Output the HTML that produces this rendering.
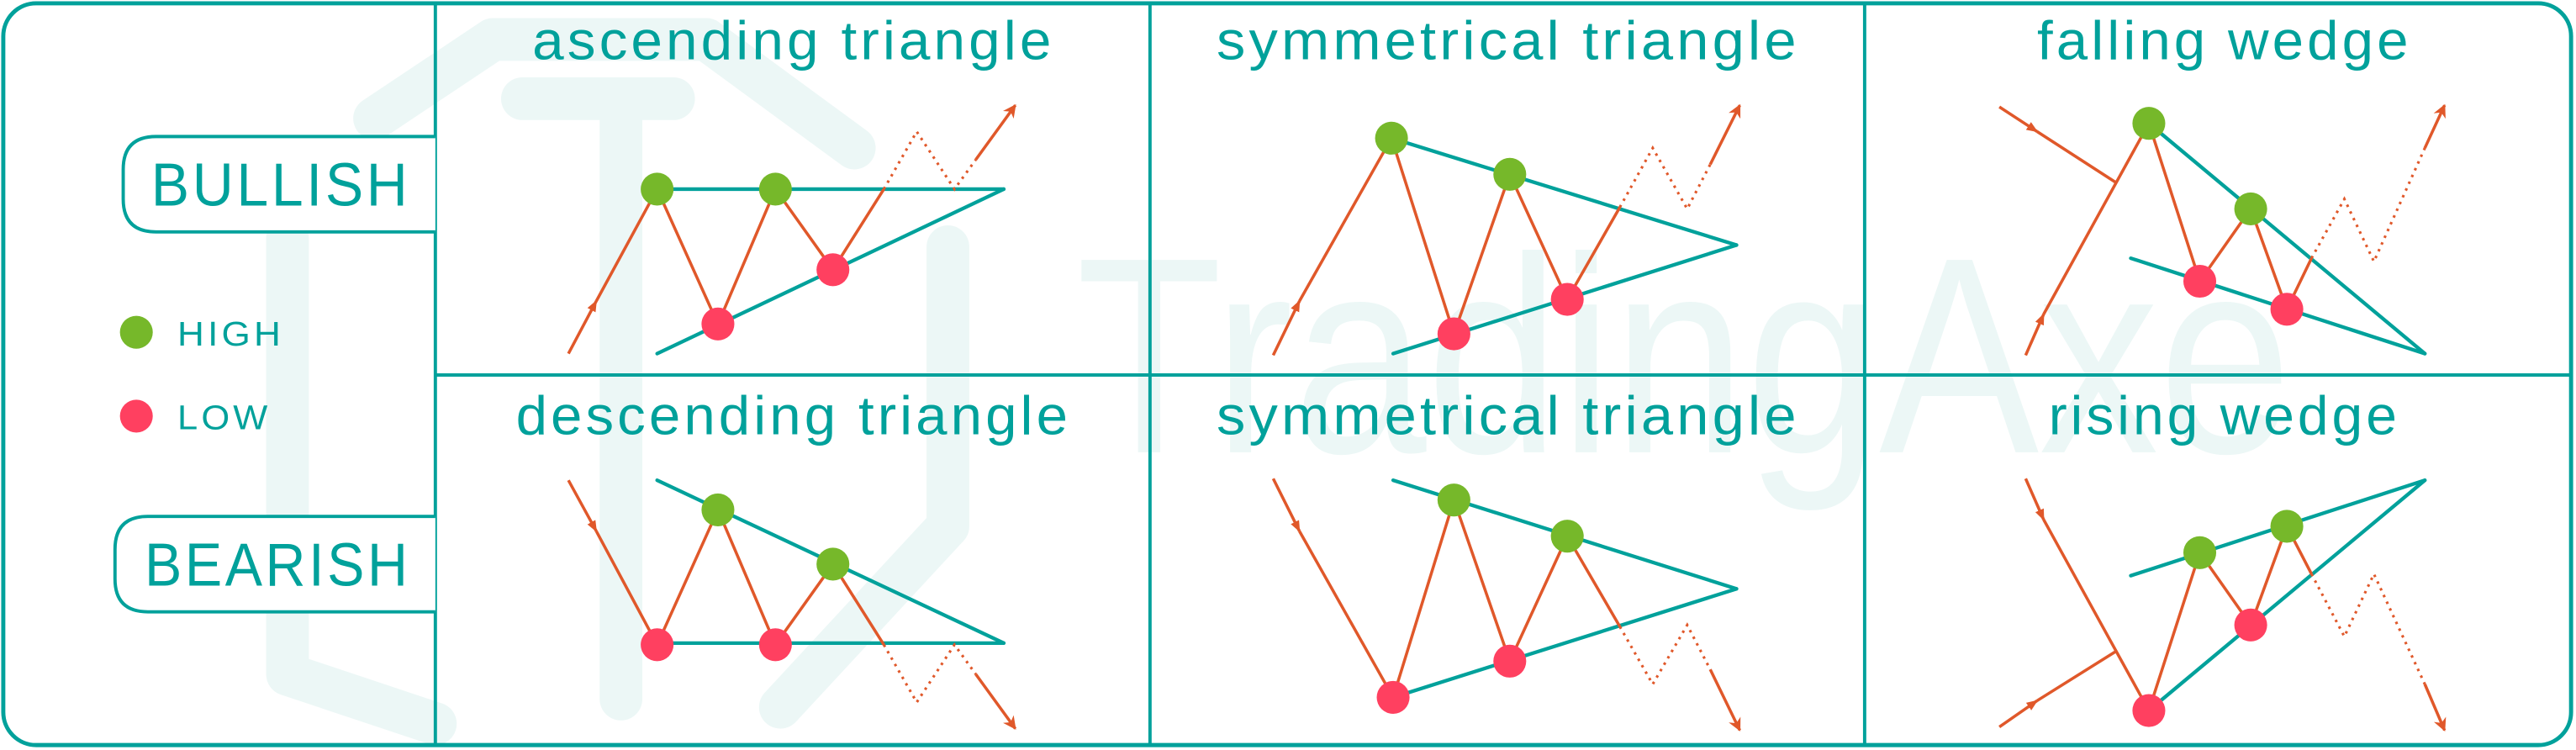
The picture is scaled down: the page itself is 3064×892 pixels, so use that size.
<!DOCTYPE html>
<html><head><meta charset="utf-8">
<style>
html,body{margin:0;padding:0;background:#fff;}
svg{display:block;}
text{font-family:"Liberation Sans",sans-serif;}
</style></head>
<body>
<svg id="chart" width="3064" height="892" viewBox="0 0 1568 456" preserveAspectRatio="none" xmlns="http://www.w3.org/2000/svg">
<defs>
<marker id="arr" viewBox="0 0 10 10" refX="9" refY="5" markerWidth="7" markerHeight="7" orient="auto-start-reverse" markerUnits="userSpaceOnUse"><path d="M0,1 L10,5 L0,9 Z" fill="#e0582a"/></marker>
<marker id="arrBig" viewBox="0 0 10 10" refX="9" refY="5" markerWidth="10" markerHeight="8" orient="auto" markerUnits="userSpaceOnUse"><path d="M0,0 L10,5 L0,10 L3,5 Z" fill="#e0582a"/></marker>
</defs>
<g id="watermark" fill="none" stroke="#ecf7f6" stroke-width="26" stroke-linecap="round" stroke-linejoin="round">
<path d="M228,72 L300,24 L430,24 L520,90"/>
<path d="M318,60 L410,60"/>
<path d="M175,145 L175,410 L265,440"/>
<path d="M378,60 L378,425"/>
<path d="M577,150 L577,320 L475,430"/>
<text x="655" y="275" font-size="170" fill="#ecf7f6" stroke="none" textLength="740" lengthAdjust="spacingAndGlyphs">TradingAxe</text>
</g>
<rect x="2" y="2" width="1563" height="451" rx="20" fill="none" stroke="#00a19b" stroke-width="2.5"/>
<g stroke="#00a19b" stroke-width="2">
<line x1="265" y1="2" x2="265" y2="454"/>
<line x1="700" y1="2" x2="700" y2="454"/>
<line x1="1135" y1="2" x2="1135" y2="454"/>
<line x1="265" y1="228" x2="1566" y2="228"/>
</g>
<g>
<path d="M265,83 L95,83 Q75,83 75,103 L75,121 Q75,141 95,141 L265,141" fill="#fff" stroke="#00a19b" stroke-width="2"/>
<text x="92" y="125" font-size="37" letter-spacing="2" fill="#00a19b" textLength="158" lengthAdjust="spacingAndGlyphs">BULLISH</text>
</g>
<g>
<path d="M265,314 L90,314 Q70,314 70,334 L70,352 Q70,372 90,372 L265,372" fill="#fff" stroke="#00a19b" stroke-width="2"/>
<text x="88" y="356" font-size="37" letter-spacing="2" fill="#00a19b" textLength="162" lengthAdjust="spacingAndGlyphs">BEARISH</text>
</g>
<g>
<circle cx="83" cy="202" r="10" fill="#76b82a"/>
<text x="108" y="210" font-size="21" letter-spacing="2" fill="#00a19b" textLength="65" lengthAdjust="spacingAndGlyphs">HIGH</text>
<circle cx="83" cy="253" r="10" fill="#ff4060"/>
<text x="108" y="261" font-size="21" letter-spacing="2" fill="#00a19b" textLength="57" lengthAdjust="spacingAndGlyphs">LOW</text>
</g>
<g id="panels"></g>
</svg>
<script>
const titles = ["ascending triangle","symmetrical triangle","falling wedge","descending triangle","symmetrical triangle","rising wedge"];
const titleX = [483,918,1354,483,918,1354];
const titleY = [36,36,36,264,264,264];
const titleW = [318,355,228,338,355,214];
const trendlines = [
 [[[400,115],[611,115]],[[400,215],[611,115]]],
 [[[847,84],[1057,149]],[[848,215],[1057,149]]],
 [[[1308,75],[1476,215]],[[1297,157],[1476,215]]],
 [[[400,292],[611,391]],[[400,391],[611,391]]],
 [[[848,292],[1057,358]],[[848,424],[1057,358]]],
 [[[1297,350],[1476,292]],[[1308,432],[1476,292]]]
];
const entries = [
 [[[346,215],[363,183],[400,115]]],
 [[[775,216],[791,183],[847,84]]],
 [[[1217,65],[1240,80],[1288,111]],[[1233,216],[1244,191],[1308,75]]],
 [[[346,292],[363,323],[400,392]]],
 [[[775,291],[791,323],[848,424]]],
 [[[1233,291],[1244,316],[1308,432]],[[1217,442],[1240,426],[1288,396]]]
];
const zigzags = [
 [[400,115],[437,197],[472,115],[507,164],[538,115]],
 [[847,84],[885,203],[919,106],[954,182],[986,126]],
 [[1308,75],[1339,171],[1370,127],[1392,188],[1407,157]],
 [[400,392],[437,310],[472,392],[507,343],[538,392]],
 [[848,424],[885,304],[919,402],[954,326],[986,381]],
 [[1308,432],[1339,336],[1370,380],[1392,320],[1407,349]]
];
const dotted = [
 [[538,115],[558,80],[581,115],[594,97]],
 [[986,126],[1006,90],[1027,127],[1041,100]],
 [[1407,157],[1427,121],[1445,159],[1476,90]],
 [[538,392],[558,427],[581,392],[594,410]],
 [[986,381],[1006,416],[1027,380],[1041,407]],
 [[1407,349],[1427,387],[1445,349],[1476,416]]
];
const exits = [[618,64],[1059,64],[1488,64],[618,443],[1059,444],[1488,444]];
const highs = [[[400,115],[472,115]],[[847,84],[919,106]],[[1308,75],[1370,127]],[[437,310],[507,343]],[[885,304],[954,326]],[[1339,336],[1392,320]]];
const lows = [[[437,197],[507,164]],[[885,203],[954,182]],[[1339,171],[1392,188]],[[400,392],[472,392]],[[848,424],[919,402]],[[1308,432],[1370,380]]];

const NS="http://www.w3.org/2000/svg";
const root=document.getElementById('panels');
function mk(tag,attrs,parent){const e=document.createElementNS(NS,tag);for(const k in attrs)e.setAttribute(k,attrs[k]);parent.appendChild(e);return e;}
function pts(a){return a.map(p=>p[0]+','+p[1]).join(' ');}
titles.forEach((t,i)=>{
 const g=mk('g',{},root);
 
 
 const tx=mk('text',{x:titleX[i]-titleW[i]/2,y:titleY[i],'font-size':33,'letter-spacing':2,fill:'#00a19b',textLength:titleW[i],lengthAdjust:'spacingAndGlyphs'},g);
 tx.textContent=t;
 
 
 trendlines[i].forEach(l=>{
  const ln=mk('polyline',{points:pts(l),fill:'none',stroke:'#00a19b','stroke-width':2.2,'stroke-linecap':'round'},g);
  
  
 });
 entries[i].forEach(e=>{
  const a=mk('polyline',{points:pts([e[0],e[1]]),fill:'none',stroke:'#e0582a','stroke-width':1.8,'marker-end':'url(#arr)'},g);
  
  
  const b=mk('polyline',{points:pts([e[1],e[2]]),fill:'none',stroke:'#e0582a','stroke-width':1.8},g);
  
  
 });
 const z=mk('polyline',{points:pts(zigzags[i]),fill:'none',stroke:'#e0582a','stroke-width':1.8,'stroke-linejoin':'round'},g);
 
 
 const d=mk('polyline',{points:pts(dotted[i]),fill:'none',stroke:'#e0582a','stroke-width':1.6,'stroke-dasharray':'1.5 3'},g);
 
 
 const dl=dotted[i][dotted[i].length-1];
 const ex=mk('polyline',{points:pts([dl,exits[i]]),fill:'none',stroke:'#e0582a','stroke-width':1.8,'marker-end':'url(#arrBig)'},g);
 
 
 highs[i].forEach(p=>{
  const c=mk('circle',{cx:p[0],cy:p[1],r:10,fill:'#76b82a'},g);
  
  
 });
 lows[i].forEach(p=>{
  const c=mk('circle',{cx:p[0],cy:p[1],r:10,fill:'#ff4060'},g);
  
  
 });
});
</script>
</body></html>
